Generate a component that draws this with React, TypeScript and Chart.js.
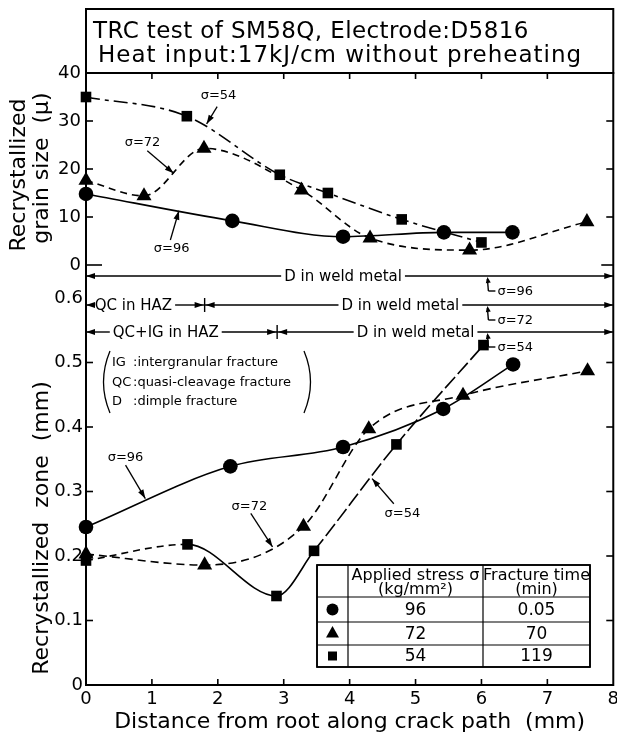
import React, { useEffect, useRef } from 'react';
import { Chart, registerables } from 'chart.js';

Chart.register(...registerables);

const FONT = "'DejaVu Sans', 'Liberation Sans', Arial, sans-serif";

// axes
const xTicks = [0, 1, 2, 3, 4, 5, 6, 7, 8];
const grainTicks = [0, 10, 20, 30, 40];
const zoneTicks = [0, 0.1, 0.2, 0.3, 0.4, 0.5, 0.6];

// top panel: recrystallized grain size (μ)
const grain96X = [0, 2.22, 3.9, 5.43, 6.47];
const grain96Y = [14.8, 9.2, 5.9, 6.8, 6.8];
const grain72X = [0, 0.88, 1.79, 3.27, 4.31, 5.82, 7.6];
const grain72Y = [17.6, 14.4, 24.3, 15.6, 5.6, 3.1, 9.0];
const grain54X = [0, 1.53, 2.94, 3.67, 4.79, 6.0];
const grain54Y = [35, 31, 18.8, 15, 9.5, 4.7];

// bottom panel: recrystallized zone (mm)
const zone96X = [0, 2.19, 3.9, 5.42, 6.48];
const zone96Y = [0.245, 0.339, 0.369, 0.428, 0.497];
const zone72X = [0, 1.8, 3.3, 4.29, 5.72, 7.61];
const zone72Y = [0.203, 0.186, 0.246, 0.397, 0.449, 0.487];
const zone54X = [0, 1.54, 2.89, 3.46, 4.71, 6.03];
const zone54Y = [0.193, 0.218, 0.138, 0.208, 0.373, 0.527];

// table
const tableStress = ['96', '72', '54'];
const tableTime = ['0.05', '70', '119'];
const tableMarkers = ['circle', 'triangle', 'rect'];

// fracture-mode bands (mm along crack path)
const bandStress = ['σ=96', 'σ=72', 'σ=54'];
const bandBreaks = [[0, 8], [0, 1.8, 8], [0, 2.9, 8]];
const bandLabels = [['D in weld metal'], ['QC in HAZ', 'D in weld metal'], ['QC+IG in HAZ', 'D in weld metal']];
const bandLabelAt = [[3.9], [0.72, 4.77], [1.21, 5.0]];

// fracture mode key
const keyCodes = ['IG', 'QC', 'D'];
const keyNames = ['intergranular fracture', 'quasi-cleavage fracture', 'dimple fracture'];

// curve labels: text, label x, label y, arrow from x, y, arrow to x, y (data units)
const grainNotes: [string, number, number, number, number, number, number][] = [
  ['σ=54', 2.01, 35.2, 1.99, 33.0, 1.83, 29.4],
  ['σ=72', 0.857, 25.5, 0.93, 23.8, 1.33, 19.1],
  ['σ=96', 1.3, 3.5, 1.28, 5.2, 1.41, 11.3],
];
const zoneNotes: [string, number, number, number, number, number, number][] = [
  ['σ=96', 0.6, 0.353, 0.6, 0.341, 0.9, 0.289],
  ['σ=72', 2.48, 0.277, 2.5, 0.266, 2.83, 0.214],
  ['σ=54', 4.8, 0.266, 4.67, 0.281, 4.34, 0.32],
];

const mk = (xs: number[], ys: number[]) => xs.map((x, i) => ({ x, y: ys[i] }));

function arrowHead(ctx: CanvasRenderingContext2D, x: number, y: number, ang: number, len = 9, half = 3) {
  const c = Math.cos(ang), s = Math.sin(ang);
  ctx.beginPath();
  ctx.moveTo(x, y);
  ctx.lineTo(x - len * c + half * s, y - len * s - half * c);
  ctx.lineTo(x - len * c - half * s, y - len * s + half * c);
  ctx.closePath();
  ctx.fill();
}

function marker(ctx: CanvasRenderingContext2D, kind: string, x: number, y: number) {
  ctx.beginPath();
  if (kind === 'circle') ctx.arc(x, y, 6, 0, Math.PI * 2);
  else if (kind === 'triangle') {
    ctx.moveTo(x, y - 7.5);
    ctx.lineTo(x + 6.5, y + 4);
    ctx.lineTo(x - 6.5, y + 4);
    ctx.closePath();
  } else ctx.rect(x - 4.5, y - 4.5, 9, 9);
  ctx.fill();
}

const decor = {
  id: 'decor',
  afterDraw(chart: any) {
    const ctx: CanvasRenderingContext2D = chart.ctx;
    const { left, right, top, bottom } = chart.chartArea;
    const xs = chart.scales.x, gs = chart.scales.grain, zs = chart.scales.zone;
    const X = (v: number) => xs.getPixelForValue(v);
    const G = (v: number) => gs.getPixelForValue(v);
    const Z = (v: number) => zs.getPixelForValue(v);
    const font = (s: number) => `${s}px ${FONT}`;
    const line = (x1: number, y1: number, x2: number, y2: number) => {
      ctx.beginPath(); ctx.moveTo(x1, y1); ctx.lineTo(x2, y2); ctx.stroke();
    };
    ctx.save();
    ctx.strokeStyle = '#000';
    ctx.fillStyle = '#000';

    // title box
    ctx.lineWidth = 2;
    ctx.strokeRect(left, 9, right - left, top - 9);
    ctx.font = font(23);
    ctx.textBaseline = 'middle';
    ctx.textAlign = 'left';
    (ctx as any).letterSpacing = '0.4px';
    ctx.fillText('TRC test of SM58Q, Electrode:D5816', left + 7, 32);
    (ctx as any).letterSpacing = '1px';
    ctx.fillText('Heat input:17kJ/cm without preheating', left + 12, 56);
    (ctx as any).letterSpacing = '0px';

    // frame
    ctx.strokeRect(left, top, right - left, bottom - top);

    // inward ticks
    ctx.lineWidth = 1.6;
    xTicks.slice(1, -1).forEach((v) => {
      line(X(v), top, X(v), top + 6);
      line(X(v), bottom, X(v), bottom - 6);
    });
    grainTicks.slice(0, -1).forEach((v) => {
      line(left, G(v), left + (v === 0 ? 16 : 7), G(v));
      line(right, G(v), right - (v === 0 ? 12 : 7), G(v));
    });
    zoneTicks.slice(1, -1).forEach((v) => {
      line(left, Z(v), left + 7, Z(v));
      line(right, Z(v), right - 7, Z(v));
    });

    // y titles
    const vtext = (t: string, x: number, y: number, size: number) => {
      ctx.save();
      ctx.translate(x, y);
      ctx.rotate(-Math.PI / 2);
      ctx.font = font(size);
      ctx.textAlign = 'center';
      ctx.textBaseline = 'middle';
      ctx.fillText(t, 0, 0);
      ctx.restore();
    };
    vtext('Recrystallized', 19, 175, 22);
    vtext('grain size  (μ)', 42, 168, 22);
    vtext('Recrystallized  zone  (mm)', 42, 528, 22);

    // fracture mode bands
    ctx.lineWidth = 1.4;
    const rowY = [G(0) + 11, G(0) + 40, G(0) + 67];
    bandBreaks.forEach((br, r) => {
      const y = rowY[r];
      ctx.font = font(15);
      ctx.textAlign = 'center';
      ctx.textBaseline = 'middle';
      for (let i = 0; i < br.length - 1; i++) {
        const xa = X(br[i]), xb = X(br[i + 1]);
        const label = bandLabels[r][i];
        const xc = X(bandLabelAt[r][i]);
        const w = ctx.measureText(label).width;
        ctx.fillText(label, xc, y + 1);
        line(xa, y, xc - w / 2 - 3, y);
        line(xc + w / 2 + 3, y, xb, y);
        arrowHead(ctx, xa + (i > 0 ? 1 : 0), y, Math.PI);
        arrowHead(ctx, xb - (i < br.length - 2 ? 1 : 0), y, 0);
        if (i > 0) line(xa, y - 7, xa, y + 7);
      }
      const xh = X(6.09);
      line(xh, y + 3, xh + 1, y + 15);
      line(xh + 1, y + 15, xh + 8, y + 15);
      arrowHead(ctx, xh, y + 1, -Math.PI / 2 - 0.15, 6, 2.5);
      ctx.font = font(13);
      ctx.textAlign = 'left';
      ctx.fillText(bandStress[r], xh + 10, y + 16);
    });

    // curve labels with arrows
    const drawNotes = (notes: [string, number, number, number, number, number, number][], Y: (v: number) => number) => {
      notes.forEach(([t, lx, ly, x1, y1, x2, y2]) => {
        ctx.font = font(13);
        ctx.textAlign = 'center';
        ctx.textBaseline = 'middle';
        ctx.fillText(t, X(lx), Y(ly));
        const px1 = X(x1), py1 = Y(y1), px2 = X(x2), py2 = Y(y2);
        ctx.lineWidth = 1.3;
        line(px1, py1, px2, py2);
        arrowHead(ctx, px2, py2, Math.atan2(py2 - py1, px2 - px1), 9, 3);
      });
    };
    drawNotes(grainNotes, G);
    drawNotes(zoneNotes, Z);

    // fracture mode key
    const keyY = [363, 383, 402];
    ctx.font = font(13);
    ctx.textAlign = 'left';
    keyCodes.forEach((c, i) => {
      ctx.fillText(c, 112, keyY[i]);
      ctx.fillText(':' + keyNames[i], 133, keyY[i]);
    });
    ctx.lineWidth = 1.3;
    ctx.beginPath(); ctx.moveTo(110, 351); ctx.quadraticCurveTo(97, 382, 110, 413); ctx.stroke();
    ctx.beginPath(); ctx.moveTo(304, 351); ctx.quadraticCurveTo(317, 382, 304, 413); ctx.stroke();

    // table
    const tx = [317, 348, 483, 590];
    const ty = [565, 597, 622, 645, 667];
    ctx.fillStyle = '#fff';
    ctx.fillRect(tx[0], ty[0], tx[3] - tx[0], ty[4] - ty[0]);
    ctx.fillStyle = '#000';
    ctx.lineWidth = 1.2;
    tx.forEach((x) => line(x, ty[0], x, ty[4]));
    ty.forEach((y) => line(tx[0], y, tx[3], y));
    ctx.lineWidth = 1.8;
    ctx.strokeRect(tx[0], ty[0], tx[3] - tx[0], ty[4] - ty[0]);
    ctx.textAlign = 'center';
    ctx.font = font(16);
    const c1 = (tx[1] + tx[2]) / 2, c2 = (tx[2] + tx[3]) / 2;
    ctx.fillText('Applied stress σ', c1, 576);
    ctx.fillText('(kg/mm²)', c1, 590);
    ctx.fillText('Fracture time', c2, 576);
    ctx.fillText('(min)', c2, 590);
    ctx.font = font(17);
    for (let i = 0; i < 3; i++) {
      const cy = (ty[i + 1] + ty[i + 2]) / 2;
      marker(ctx, tableMarkers[i], (tx[0] + tx[1]) / 2, cy);
      ctx.fillText(tableStress[i], c1, cy + 1);
      ctx.fillText(tableTime[i], c2, cy + 1);
    }
    ctx.restore();
  },
};

export default function App() {
  const ref = useRef<HTMLCanvasElement>(null);
  useEffect(() => {
    if (!ref.current) return;
    const base = {
      borderColor: '#000',
      backgroundColor: '#000',
      pointBackgroundColor: '#000',
      pointBorderColor: '#000',
      pointBorderWidth: 0,
      borderWidth: 1.6,
      clip: false as any,
      fill: false,
      cubicInterpolationMode: 'monotone' as const,
    };
    const tickFont = { size: 18, family: FONT };
    const hideAxisLines = { grid: { display: false, drawTicks: false }, border: { display: false } };
    const chart = new Chart(ref.current, {
      type: 'line',
      data: {
        datasets: [
          { ...base, data: mk(grain96X, grain96Y), yAxisID: 'grain', pointStyle: 'circle', pointRadius: 7.3 },
          { ...base, data: mk(grain72X, grain72Y), yAxisID: 'grain', pointStyle: 'triangle', pointRadius: 8.7, borderDash: [7, 5] },
          { ...base, data: mk(grain54X, grain54Y), yAxisID: 'grain', pointStyle: 'rect', pointRadius: 7.5, borderDash: [14, 5, 4, 5] },
          { ...base, data: mk(zone96X, zone96Y), yAxisID: 'zone', pointStyle: 'circle', pointRadius: 7.3 },
          { ...base, data: mk(zone72X, zone72Y), yAxisID: 'zone', pointStyle: 'triangle', pointRadius: 8.7, borderDash: [8, 5] },
          {
            ...base, data: mk(zone54X, zone54Y), yAxisID: 'zone', pointStyle: 'rect', pointRadius: 7.5,
            segment: {
              borderDash: (c: any) => (c.p0DataIndex === 0 ? [7, 5] : c.p0DataIndex < 3 ? [] : [15, 4]),
            },
          },
        ] as any,
      },
      options: {
        responsive: false,
        animation: false,
        devicePixelRatio: 1,
        layout: { padding: { top: 73, right: 4, left: 0, bottom: 0 } },
        plugins: { legend: { display: false }, tooltip: { enabled: false }, title: { display: false } },
        scales: {
          x: {
            type: 'linear',
            min: 0,
            max: 8,
            ...hideAxisLines,
            afterBuildTicks: (s: any) => { s.ticks = xTicks.map((v) => ({ value: v })); },
            ticks: { font: tickFont, color: '#000', padding: 4, autoSkip: false, maxRotation: 0 },
            title: {
              display: true,
              text: 'Distance from root along crack path  (mm)',
              color: '#000',
              font: { size: 22, family: FONT },
              padding: { top: 0, bottom: 1 },
            },
            afterFit: (s: any) => { s.height = 51; },
          },
          zone: {
            type: 'linear',
            position: 'left',
            stack: 'panels',
            stackWeight: 387,
            min: 0,
            max: 0.6,
            ...hideAxisLines,
            afterBuildTicks: (s: any) => { s.ticks = zoneTicks.map((v) => ({ value: v })); },
            ticks: {
              font: tickFont, color: '#000', padding: 3, autoSkip: false,
              callback: (v: any) => (Number(v) === 0 ? '0' : Number(v).toFixed(1)),
            },
            afterFit: (s: any) => { s.width = 86; },
          },
          grain: {
            type: 'linear',
            position: 'left',
            stack: 'panels',
            stackWeight: 225,
            min: -6.875,
            max: 40,
            ...hideAxisLines,
            afterBuildTicks: (s: any) => { s.ticks = grainTicks.map((v) => ({ value: v })); },
            ticks: { font: tickFont, color: '#000', padding: 5, autoSkip: false, callback: (v: any) => String(v) },
            afterFit: (s: any) => { s.width = 86; },
          },
        } as any,
      },
      plugins: [decor],
    });
    return () => chart.destroy();
  }, []);
  return (
    <div style={{ position: 'fixed', left: 0, top: 0, width: 617, height: 736, background: '#fff', overflow: 'hidden' }}>
      <canvas ref={ref} width={623} height={736} style={{ display: 'block' }} />
    </div>
  );
}
